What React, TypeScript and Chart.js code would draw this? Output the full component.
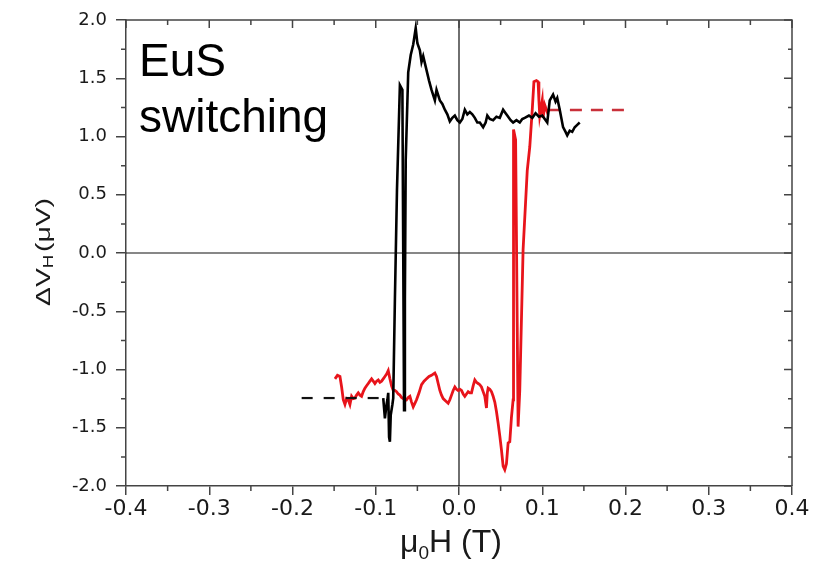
import React, { useEffect, useRef } from 'react';
import { Chart, registerables } from 'chart.js';

Chart.register(...registerables);

// ---- tick values ----
const xTickValues = [-0.4, -0.3, -0.2, -0.1, 0.0, 0.1, 0.2, 0.3, 0.4];
const yTickValues = [-2.0, -1.5, -1.0, -0.5, 0.0, 0.5, 1.0, 1.5, 2.0];

// ---- black sweep ----
const blackDashX = [-0.189, -0.091];
const blackDashY = [-1.245, -1.245];

const blackX = [
  -0.091, -0.089, -0.087, -0.086, -0.085, -0.084, -0.083, -0.082, -0.080, -0.079,
  -0.077, -0.0745, -0.071, -0.068, -0.067, -0.066, -0.065, -0.064, -0.061, -0.058,
  -0.055, -0.052, -0.050, -0.047, -0.045, -0.043, -0.039, -0.036, -0.033, -0.029,
  -0.027, -0.023, -0.020, -0.017, -0.014, -0.011, -0.008, -0.005, -0.002, 0.001,
  0.004, 0.007, 0.010, 0.013, 0.016, 0.019, 0.022, 0.025, 0.029, 0.032,
  0.034, 0.037, 0.041, 0.045, 0.049, 0.053, 0.056, 0.058, 0.062, 0.065,
  0.069, 0.073, 0.076, 0.079, 0.084, 0.088, 0.092, 0.096, 0.100, 0.103,
  0.106, 0.109, 0.113, 0.116, 0.118, 0.121, 0.125, 0.128, 0.130, 0.133,
  0.136, 0.139, 0.142, 0.145,
];
const blackY = [
  -1.245, -1.42, -1.30, -1.26, -1.20, -1.58, -1.62, -1.39, -1.30, -1.245,
  -0.40, 0.54, 1.44, 1.40, 0.03, -1.35, -0.40, 0.80, 1.55, 1.70,
  1.79, 1.93, 1.80, 1.74, 1.64, 1.69, 1.57, 1.48, 1.40, 1.31,
  1.40, 1.31, 1.28, 1.23, 1.19, 1.13, 1.16, 1.18, 1.14, 1.12,
  1.15, 1.23, 1.19, 1.21, 1.19, 1.16, 1.12, 1.12, 1.08, 1.12,
  1.18, 1.15, 1.14, 1.17, 1.16, 1.23, 1.20, 1.18, 1.14, 1.12,
  1.14, 1.12, 1.15, 1.16, 1.18, 1.16, 1.20, 1.17, 1.18, 1.15,
  1.12, 1.31, 1.36, 1.30, 1.33, 1.23, 1.08, 1.04, 1.01, 1.05,
  1.04, 1.08, 1.10, 1.12,
];

// ---- red sweep ----
const redX = [
  -0.149, -0.146, -0.143, -0.141, -0.139, -0.137, -0.135, -0.133, -0.131, -0.129,
  -0.127, -0.125, -0.123, -0.121, -0.119, -0.117, -0.115, -0.113, -0.111, -0.109,
  -0.107, -0.105, -0.103, -0.101, -0.099, -0.097, -0.095, -0.093, -0.091, -0.089,
  -0.087, -0.085, -0.083, -0.081, -0.079, -0.077, -0.075, -0.073, -0.071, -0.069,
  -0.067, -0.065, -0.063, -0.061, -0.059, -0.057, -0.055, -0.053, -0.051, -0.048,
  -0.045, -0.042, -0.039, -0.036, -0.033, -0.031, -0.029, -0.027, -0.025, -0.023,
  -0.021, -0.019, -0.016, -0.013, -0.011, -0.009, -0.007, -0.005, -0.003, -0.001,
  0.001, 0.003, 0.005, 0.007, 0.009, 0.011, 0.013, 0.015, 0.017, 0.019,
  0.021, 0.023, 0.025, 0.027, 0.029, 0.031, 0.033, 0.034, 0.035, 0.037,
  0.039, 0.041, 0.043, 0.045, 0.047, 0.049, 0.051, 0.053, 0.055, 0.057,
  0.059, 0.061, 0.063, 0.065, 0.065, 0.066, 0.068, 0.071, 0.073, 0.077,
  0.082, 0.085, 0.088, 0.090, 0.093, 0.095, 0.096, 0.097, 0.100, 0.101,
  0.103, 0.106, 0.108,
];
const redY = [
  -1.08, -1.05, -1.06, -1.15, -1.26, -1.30, -1.25, -1.26, -1.30, -1.23,
  -1.25, -1.245, -1.22, -1.20, -1.22, -1.23, -1.19, -1.16, -1.14, -1.12,
  -1.10, -1.08, -1.10, -1.12, -1.10, -1.09, -1.11, -1.10, -1.08, -1.06,
  -1.04, -1.01, -1.08, -1.14, -1.18, -1.18, -1.19, -1.21, -1.22, -1.24,
  -1.25, -1.25, -1.26, -1.24, -1.23, -1.28, -1.32, -1.29, -1.26, -1.20,
  -1.13, -1.10, -1.08, -1.06, -1.05, -1.04, -1.03, -1.06, -1.12, -1.18,
  -1.22, -1.25, -1.27, -1.29, -1.26, -1.22, -1.18, -1.15, -1.17, -1.18,
  -1.17, -1.18, -1.21, -1.23, -1.21, -1.19, -1.20, -1.20, -1.14, -1.09,
  -1.11, -1.12, -1.13, -1.15, -1.19, -1.23, -1.33, -1.20, -1.16, -1.17,
  -1.19, -1.23, -1.28, -1.36, -1.46, -1.57, -1.69, -1.83, -1.86, -1.81,
  -1.63, -1.62, -1.41, -1.26, -0.95, 1.06, 0.97, -1.49, -1.18, 0.03,
  0.71, 0.91, 1.23, 1.47, 1.48, 1.47, 1.31, 1.18, 1.31, 1.16,
  1.27, 1.21, 1.23,
];
const redDashX = [0.108, 0.203];
const redDashY = [1.227, 1.227];

const annotationLines = ['EuS', 'switching'];

function zip(xs: number[], ys: number[]) {
  return xs.map((x, i) => ({ x, y: ys[i] }));
}

function midpoints(vals: number[]) {
  const out: number[] = [];
  for (let i = 0; i < vals.length - 1; i++) out.push((vals[i] + vals[i + 1]) / 2);
  return out;
}

const AXIS_COLOR = '#444';
const TEXT_COLOR = '#1a1a1a';

const framePlugin = {
  id: 'framePlugin',
  beforeDatasetsDraw(chart: any) {
    const { ctx, chartArea: a, scales } = chart;
    const xs = scales.x;
    const ys = scales.y;
    ctx.save();
    ctx.strokeStyle = '#111';
    ctx.lineWidth = 1.2;
    const x0 = xs.getPixelForValue(0);
    const y0 = ys.getPixelForValue(0);
    ctx.beginPath();
    ctx.moveTo(x0, a.top);
    ctx.lineTo(x0, a.bottom);
    ctx.moveTo(a.left, y0);
    ctx.lineTo(a.right, y0);
    ctx.stroke();
    ctx.restore();
  },
  afterDraw(chart: any) {
    const { ctx, chartArea: a, scales } = chart;
    const xs = scales.x;
    const ys = scales.y;
    ctx.save();
    ctx.strokeStyle = AXIS_COLOR;
    ctx.lineWidth = 1.5;
    // top & right frame
    ctx.beginPath();
    ctx.moveTo(a.left, a.top);
    ctx.lineTo(a.right, a.top);
    ctx.lineTo(a.right, a.bottom);
    ctx.stroke();

    const xMinor = midpoints(xTickValues);
    const yMinor = midpoints(yTickValues);
    ctx.beginPath();
    // bottom minor outward
    xMinor.forEach((v) => {
      const p = xs.getPixelForValue(v);
      ctx.moveTo(p, a.bottom);
      ctx.lineTo(p, a.bottom + 5);
    });
    // left minor outward
    yMinor.forEach((v) => {
      const p = ys.getPixelForValue(v);
      ctx.moveTo(a.left, p);
      ctx.lineTo(a.left - 5, p);
    });
    // top inward
    xTickValues.forEach((v) => {
      const p = xs.getPixelForValue(v);
      ctx.moveTo(p, a.top);
      ctx.lineTo(p, a.top + 8);
    });
    xMinor.forEach((v) => {
      const p = xs.getPixelForValue(v);
      ctx.moveTo(p, a.top);
      ctx.lineTo(p, a.top + 5);
    });
    // right inward
    yTickValues.forEach((v) => {
      const p = ys.getPixelForValue(v);
      ctx.moveTo(a.right, p);
      ctx.lineTo(a.right - 8, p);
    });
    yMinor.forEach((v) => {
      const p = ys.getPixelForValue(v);
      ctx.moveTo(a.right, p);
      ctx.lineTo(a.right - 4, p);
    });
    ctx.stroke();

    // annotation text
    ctx.fillStyle = '#000';
    ctx.font = '46px "Liberation Sans", Arial, sans-serif';
    ctx.textBaseline = 'alphabetic';
    ctx.textAlign = 'left';
    ctx.fillText(annotationLines[0], a.left + 13, a.top + 56);
    ctx.fillText(annotationLines[1], a.left + 13, a.top + 112);

    // x title: mu_0 H (T)
    ctx.fillStyle = TEXT_COLOR;
    const bigX = '32px "Liberation Sans", Arial, sans-serif';
    const subX = '19px "Liberation Sans", Arial, sans-serif';
    ctx.font = bigX;
    const w1 = ctx.measureText('\u03bc').width;
    ctx.font = subX;
    const w2 = ctx.measureText('0').width;
    ctx.font = bigX;
    const w3 = ctx.measureText('H (T)').width;
    const totalX = w1 + w2 + w3;
    let cx = 451 - totalX / 2;
    const by = 552;
    ctx.font = bigX;
    ctx.fillText('\u03bc', cx, by);
    cx += w1;
    ctx.font = subX;
    ctx.fillText('0', cx, by + 7);
    cx += w2;
    ctx.font = bigX;
    ctx.fillText('H (T)', cx, by);

    // y title: Delta V_H (mu V)
    const bigY = '21px "Liberation Sans", Arial, sans-serif';
    const subY = '14px "Liberation Sans", Arial, sans-serif';
    ctx.font = bigY;
    const u1 = ctx.measureText('\u0394V').width;
    ctx.font = subY;
    const u2 = ctx.measureText('H').width + 2;
    ctx.font = bigY;
    const u3 = ctx.measureText('(\u03bcV)').width;
    const natural = u1 + u2 + u3;
    const target = 108;
    ctx.translate(50, 252);
    ctx.rotate(-Math.PI / 2);
    ctx.scale(target / natural, 1);
    let c = -natural / 2;
    ctx.font = bigY;
    ctx.fillText('\u0394V', c, 0);
    c += u1;
    ctx.font = subY;
    ctx.fillText('H', c, 3);
    c += u2;
    ctx.font = bigY;
    ctx.fillText('(\u03bcV)', c, 0);
    ctx.restore();
  },
};

export default function App() {
  const ref = useRef<HTMLCanvasElement | null>(null);
  useEffect(() => {
    if (!ref.current) return;
    const chart = new Chart(ref.current, {
      type: 'scatter',
      data: {
        datasets: [
          {
            data: zip(blackDashX, blackDashY),
            showLine: true,
            borderColor: '#111',
            borderWidth: 2.2,
            borderDash: [11, 11],
            pointRadius: 0,
          },
          {
            data: zip(blackX, blackY),
            showLine: true,
            borderColor: '#000',
            borderWidth: 2.6,
            pointRadius: 0,
          },
          {
            data: zip(redDashX, redDashY),
            showLine: true,
            borderColor: '#c9303a',
            borderWidth: 2.4,
            borderDash: [12, 9],
            pointRadius: 0,
          },
          {
            data: zip(redX, redY),
            showLine: true,
            borderColor: '#e8141b',
            borderWidth: 2.8,
            pointRadius: 0,
          },
        ],
      },
      options: {
        animation: false,
        responsive: false,
        layout: { padding: { left: 0, right: 37, top: 20, bottom: 0 } },
        plugins: { legend: { display: false }, tooltip: { enabled: false }, title: { display: false } },
        scales: {
          x: {
            type: 'linear',
            min: -0.4,
            max: 0.4,
            afterBuildTicks: (s: any) => {
              s.ticks = xTickValues.map((v) => ({ value: v }));
            },
            afterFit: (s: any) => {
              s.height = 96;
            },
            ticks: {
              autoSkip: false,
              maxRotation: 0,
              padding: 1,
              color: TEXT_COLOR,
              font: { family: '"DejaVu Sans"', size: 22 },
              callback: (v: any) => Number(v).toFixed(1),
            },
            grid: { drawOnChartArea: false, drawTicks: true, tickLength: 9, color: AXIS_COLOR, lineWidth: 1.5 },
            border: { display: true, color: AXIS_COLOR, width: 1.5 },
          },
          y: {
            type: 'linear',
            min: -2,
            max: 2,
            afterBuildTicks: (s: any) => {
              s.ticks = yTickValues.map((v) => ({ value: v }));
            },
            afterFit: (s: any) => {
              s.width = 126;
            },
            ticks: {
              autoSkip: false,
              padding: 9,
              color: TEXT_COLOR,
              font: { family: '"DejaVu Sans"', size: 18 },
              callback: (v: any) => Number(v).toFixed(1),
            },
            grid: { drawOnChartArea: false, drawTicks: true, tickLength: 10, color: AXIS_COLOR, lineWidth: 1.5 },
            border: { display: true, color: AXIS_COLOR, width: 1.5 },
          },
        },
      },
      plugins: [framePlugin],
    } as any);
    return () => chart.destroy();
  }, []);
  return (
    <div style={{ position: 'absolute', left: 0, top: 0, width: 829, height: 582, background: '#fff' }}>
      <canvas ref={ref} width={829} height={582} style={{ display: 'block' }} />
    </div>
  );
}
